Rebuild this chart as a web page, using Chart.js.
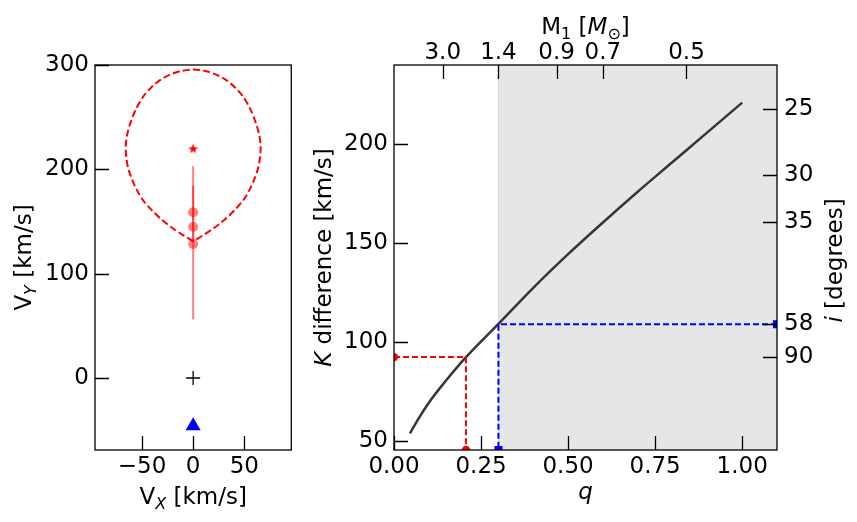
<!DOCTYPE html>
<html>
<head>
<meta charset="utf-8">
<script src="https://cdn.jsdelivr.net/npm/chart.js@4.4.1/dist/chart.umd.min.js"></script>
<style>
  html, body { margin: 0; padding: 0; background: #fff; }
  #wrap { position: relative; width: 857px; height: 522px; overflow: hidden; }
  canvas { position: absolute; top: 0; }
  #cLeft { left: 0; }
  #cRight { left: 300px; }
</style>
</head>
<body>
<div id="wrap">
  <canvas id="cLeft" width="300" height="522"></canvas>
  <canvas id="cRight" width="557" height="522"></canvas>
</div>
<script>
// ---------------- LEFT PANEL DATA (velocity plane) ----------------
const vxRange = [-96, 96];
const vyRange = [-69, 300];
const vxTicks = [-50, 0, 50];
const vyTicks = [0, 100, 200, 300];

// dashed teardrop, cusp -> left side -> top -> right side -> cusp
const dropX = [0, -10, -20.3, -31, -41, -49.5, -55.5, -60, -63.5, -65.3, -66, -64.8, -61.5, -56, -49, -41, -32, -23, -12, 0,
               12, 23, 32, 41, 49, 56, 61.5, 64.8, 66, 65.3, 63.5, 60, 55.5, 49.5, 41, 31, 20.3, 10, 0];
const dropY = [131, 137, 143.8, 152, 161.4, 171, 181, 191, 201, 211, 222, 232, 244, 257.5, 269.5, 278.5, 285.8, 290.6, 294.2, 295.6,
               294.2, 290.6, 285.8, 278.5, 269.5, 257.5, 244, 232, 222, 211, 201, 191, 181, 171, 161.4, 152, 143.8, 137, 131];

const starX = [0], starY = [220];
const obsX = [0, 0, 0];
const obsY = [158.8, 144.8, 128.5];
const errX = [0, 0];
const errLow = [131, 56];
const errHigh = [184, 203];
const originX = [0], originY = [0];
const triX = [0], triY = [-46];

// ---------------- RIGHT PANEL DATA (K difference vs q) ----------------
const qRange = [0, 1.1];
const kRange = [45.6, 240];
const qTicks = [0, 0.25, 0.5, 0.75, 1.0];
const kTicks = [50, 100, 150, 200];
const m1Labels = ['3.0', '1.4', '0.9', '0.7', '0.5'];
const m1TickQ = [0.14, 0.30, 0.467, 0.60, 0.84];
const incLabels = ['25', '30', '35', '58', '90'];
const incTickK = [218, 184.5, 160.5, 109.1, 92.5];

const curveQ = [0.046, 0.07, 0.10, 0.15, 0.2067, 0.30, 0.40, 0.50, 0.60, 0.70, 0.80, 0.90, 1.0];
const curveK = [54.0, 61.3, 69.5, 80.8, 92.5, 109.3, 127.5, 144.5, 160.5, 176.0, 191.0, 206.0, 221.0];

const spanQ = [0.3, 1.1];
const redQ = 0.2067, redK = 92.5;
const blueQ = 0.3, blueK = 109.1;

// ---------------- helpers ----------------
const FONT = 'DejaVu Sans';
const TICK_FONT = { family: FONT, size: 23 };
const pts = (xs, ys) => xs.map((x, i) => ({ x: x, y: ys[i] }));
const fmtMinus = v => (v < 0 ? '\u2212' + Math.abs(v) : String(v));

function starImage() {
  const c = document.createElement('canvas');
  c.width = 14; c.height = 14;
  const g = c.getContext('2d');
  g.fillStyle = '#ff0000';
  g.beginPath();
  for (let i = 0; i < 10; i++) {
    const r = i % 2 === 0 ? 5.2 : 2.1;
    const a = -Math.PI / 2 + i * Math.PI / 5;
    const px = 7 + r * Math.cos(a), py = 7.5 + r * Math.sin(a);
    if (i === 0) g.moveTo(px, py); else g.lineTo(px, py);
  }
  g.closePath(); g.fill();
  return c;
}

function fontOf(s) {
  const size = s.sub ? 16 : 23;
  return (s.italic ? 'italic ' : '') + size + 'px "' + FONT + '"';
}
function drawRich(ctx, segs, x, y, rot) {
  ctx.save();
  ctx.translate(x, y);
  ctx.rotate(rot);
  ctx.fillStyle = '#000';
  ctx.textBaseline = 'alphabetic';
  ctx.textAlign = 'left';
  let w = 0;
  segs.forEach(s => { ctx.font = fontOf(s); w += ctx.measureText(s.t).width; });
  let cx = -w / 2;
  segs.forEach(s => {
    ctx.font = fontOf(s);
    ctx.fillText(s.t, cx, s.sub ? 5 : 0);
    cx += ctx.measureText(s.t).width;
  });
  ctx.restore();
}

const TICK_LEN = 14;
function makeFramePlugin(titleFn) {
  return {
    id: 'frameTicks',
    afterDraw(chart) {
      const ctx = chart.ctx, a = chart.chartArea;
      ctx.save();
      ctx.strokeStyle = '#000';
      ctx.lineWidth = 1.3;
      ctx.beginPath();
      Object.values(chart.scales).forEach(scale => {
        scale.ticks.forEach(t => {
          const p = Math.round(scale.getPixelForValue(t.value)) + 0.5;
          if (scale.position === 'left') { ctx.moveTo(a.left, p); ctx.lineTo(a.left + TICK_LEN, p); }
          if (scale.position === 'right') { ctx.moveTo(a.right, p); ctx.lineTo(a.right - TICK_LEN, p); }
          if (scale.position === 'bottom') { ctx.moveTo(p, a.bottom); ctx.lineTo(p, a.bottom - TICK_LEN); }
          if (scale.position === 'top') { ctx.moveTo(p, a.top); ctx.lineTo(p, a.top + TICK_LEN); }
        });
      });
      ctx.stroke();
      ctx.strokeRect(a.left, a.top, a.right - a.left, a.bottom - a.top);
      ctx.restore();
      titleFn(ctx, a);
    }
  };
}

function fixedTicks(values) {
  return function (scale) { scale.ticks = values.map(v => ({ value: v })); };
}

function axis(opts) {
  return Object.assign({
    type: 'linear',
    grid: { display: false, drawTicks: false },
    border: { display: false },
    ticks: { font: TICK_FONT, color: '#000', autoSkip: false, maxRotation: 0, minRotation: 0, padding: 6 }
  }, opts);
}

Chart.defaults.font.family = FONT;

// ---------------- LEFT CHART ----------------
new Chart(document.getElementById('cLeft'), {
  type: 'line',
  data: {
    datasets: [
      { data: pts(dropX, dropY), borderColor: '#ff0000', borderWidth: 2, borderDash: [7, 3.2],
        pointRadius: 0, tension: 0.3, fill: false, order: 5 },
      { data: [{ x: errX[0], y: errLow[0] }, { x: errX[0], y: errHigh[0] }], borderColor: 'rgba(255,0,0,0.5)',
        borderWidth: 2, pointRadius: 0, fill: false, order: 4 },
      { data: [{ x: errX[1], y: errLow[1] }, { x: errX[1], y: errHigh[1] }], borderColor: 'rgba(255,0,0,0.5)',
        borderWidth: 2, pointRadius: 0, fill: false, order: 4 },
      { data: pts(obsX, obsY), showLine: false, pointRadius: 5, pointBackgroundColor: 'rgba(255,0,0,0.5)',
        pointBorderWidth: 0, order: 3 },
      { data: pts(starX, starY), showLine: false, pointStyle: starImage(), pointRadius: 6, order: 2 },
      { data: pts(originX, originY), showLine: false, pointStyle: 'cross', pointRadius: 7,
        pointBorderColor: '#000', pointBorderWidth: 1.3, order: 2 },
      { data: pts(triX, triY), showLine: false, pointStyle: 'triangle', pointRadius: 8.7,
        pointBackgroundColor: '#0000ff', pointBorderColor: '#0000ff', pointBorderWidth: 0, order: 1 }
    ]
  },
  options: {
    responsive: false,
    animation: false,
    layout: { padding: { top: 65, right: 7, left: 0, bottom: 0 } },
    plugins: { legend: { display: false }, tooltip: { enabled: false } },
    events: [],
    scales: {
      x: axis({ position: 'bottom', min: vxRange[0], max: vxRange[1],
        afterBuildTicks: fixedTicks(vxTicks), afterFit: s => { s.height = 72; },
        ticks: { font: TICK_FONT, color: '#000', autoSkip: false, maxRotation: 0, minRotation: 0, padding: 3,
          callback: v => fmtMinus(v) } }),
      y: axis({ position: 'left', min: vyRange[0], max: vyRange[1],
        afterBuildTicks: fixedTicks(vyTicks), afterFit: s => { s.width = 95; },
        ticks: { font: TICK_FONT, color: '#000', autoSkip: false, padding: 6, callback: v => fmtMinus(v) } })
    }
  },
  plugins: [makeFramePlugin((ctx, a) => {
    drawRich(ctx, [{ t: 'V' }, { t: 'X', italic: true, sub: true }, { t: ' [km/s]' }],
      (a.left + a.right) / 2, a.bottom + 54, 0);
    drawRich(ctx, [{ t: 'V' }, { t: 'Y', italic: true, sub: true }, { t: ' [km/s]' }],
      a.left - 64, (a.top + a.bottom) / 2, -Math.PI / 2);
  })]
});

// ---------------- RIGHT CHART ----------------
new Chart(document.getElementById('cRight'), {
  type: 'line',
  data: {
    datasets: [
      { data: [{ x: spanQ[0], y: kRange[1] }, { x: spanQ[1], y: kRange[1] }], fill: 'start',
        backgroundColor: 'rgba(128,128,128,0.2)', borderWidth: 0, pointRadius: 0, order: 20 },
      { data: [{ x: spanQ[0], y: kRange[0] }, { x: spanQ[0], y: kRange[1] }], borderColor: 'rgba(128,128,128,0.25)',
        borderWidth: 1, pointRadius: 0, fill: false, order: 19 },
      { data: pts(curveQ, curveK), borderColor: '#363636', borderWidth: 2.5, pointRadius: 0,
        cubicInterpolationMode: 'monotone', fill: false, order: 5 },
      { data: [{ x: qRange[0], y: redK }, { x: redQ, y: redK }, { x: redQ, y: kRange[0] }],
        borderColor: '#ff0000', borderWidth: 2, borderDash: [6, 3], pointRadius: 0, fill: false, order: 4 },
      { data: [{ x: qRange[1], y: blueK }, { x: blueQ, y: blueK }, { x: blueQ, y: kRange[0] }],
        borderColor: '#0000ff', borderWidth: 2, borderDash: [6, 3], pointRadius: 0, fill: false, order: 4 },
      { data: [{ x: qRange[0], y: redK }, { x: redQ, y: kRange[0] }], showLine: false, pointRadius: 4.2,
        pointBackgroundColor: '#ff0000', pointBorderWidth: 0, clip: 0, order: 2 },
      { data: [{ x: qRange[1], y: blueK }, { x: blueQ, y: kRange[0] }], showLine: false, pointStyle: 'rect',
        pointRadius: 5.7, pointBackgroundColor: '#0000ff', pointBorderWidth: 0, clip: 0, order: 2 }
    ]
  },
  options: {
    responsive: false,
    animation: false,
    layout: { padding: 0 },
    plugins: { legend: { display: false }, tooltip: { enabled: false } },
    events: [],
    scales: {
      x: axis({ position: 'bottom', min: qRange[0], max: qRange[1],
        afterBuildTicks: fixedTicks(qTicks), afterFit: s => { s.height = 72; },
        ticks: { font: TICK_FONT, color: '#000', autoSkip: false, maxRotation: 0, minRotation: 0, padding: 3,
          callback: v => v.toFixed(2) } }),
      x2: axis({ position: 'top', min: qRange[0], max: qRange[1],
        afterBuildTicks: fixedTicks(m1TickQ), afterFit: s => { s.height = 65; },
        ticks: { font: TICK_FONT, color: '#000', autoSkip: false, maxRotation: 0, minRotation: 0, padding: -2,
          callback: (v, i) => m1Labels[i] } }),
      y: axis({ position: 'left', min: kRange[0], max: kRange[1],
        afterBuildTicks: fixedTicks(kTicks), afterFit: s => { s.width = 94; },
        ticks: { font: TICK_FONT, color: '#000', autoSkip: false, padding: 6 } }),
      y2: axis({ position: 'right', min: kRange[0], max: kRange[1],
        afterBuildTicks: fixedTicks(incTickK), afterFit: s => { s.width = 80; },
        ticks: { font: TICK_FONT, color: '#000', autoSkip: false, padding: 7, callback: (v, i) => incLabels[i] } })
    }
  },
  plugins: [makeFramePlugin((ctx, a) => {
    drawRich(ctx, [{ t: 'q', italic: true }], (a.left + a.right) / 2, a.bottom + 49, 0);
    drawRich(ctx, [{ t: 'K', italic: true }, { t: ' difference [km/s]' }], a.left - 63, (a.top + a.bottom) / 2, -Math.PI / 2);
    drawRich(ctx, [{ t: 'i', italic: true }, { t: ' [degrees]' }], a.right + 65, (a.top + a.bottom) / 2 + 3, -Math.PI / 2);
    drawRich(ctx, [{ t: 'M' }, { t: '1', sub: true }, { t: ' [' }, { t: 'M', italic: true }, { t: '\u2299', sub: true }, { t: ']' }],
      (a.left + a.right) / 2, a.top - 31, 0);
  })]
});
</script>
</body>
</html>
